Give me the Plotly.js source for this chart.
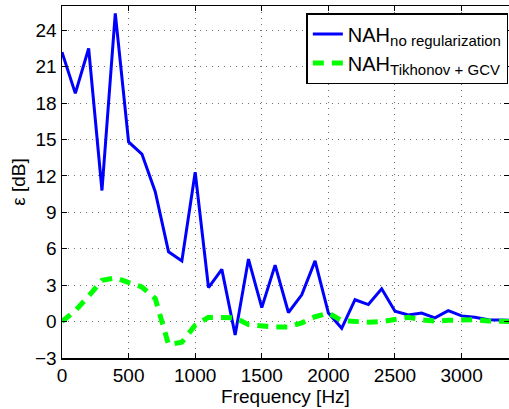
<!DOCTYPE html>
<html>
<head>
<meta charset="utf-8">
<script src="https://cdn.plot.ly/plotly-3.0.1.min.js"></script>
<style>html,body{margin:0;padding:0;background:#fff;}#chart{width:509px;height:409px;}</style>
</head>
<body>
<div id="chart"></div>
<script>
const frequency = [0,100,200,300,400,500,600,700,800,900,1000,1100,1200,1300,1400,1500,1600,1700,1800,1900,2000,2100,2200,2300,2400,2500,2600,2700,2800,2900,3000,3100,3200,3300,3400];
const noRegularization = [22.2,18.8,22.5,10.8,25.4,14.8,13.8,10.7,5.75,5.0,12.3,2.8,4.3,-1.1,5.15,1.15,4.65,0.75,2.2,5.0,0.7,-0.55,1.8,1.4,2.7,0.85,0.55,0.7,0.3,0.9,0.47,0.36,0.15,0.12,0.1];
const tikhonovGCV = [0,0.9,2.1,3.4,3.6,3.25,2.85,1.9,-1.9,-1.7,-0.3,0.35,0.35,0.3,-0.25,-0.4,-0.45,-0.45,-0.1,0.4,0.7,0.08,0.0,-0.05,0.0,0.2,0.35,0.15,0.05,0.1,0.15,0.15,0.05,0.0,0.0];
const xTicks = [0,500,1000,1500,2000,2500,3000];
const yTicks = [-3,0,3,6,9,12,15,18,21,24];
const yTickText = ['\u22123','0','3','6','9','12','15','18','21','24'];
const seriesBase = ['NAH', 'NAH'];
const seriesSub = ['no regularization', 'Tikhonov + GCV'];

const font = 'Liberation Sans, Arial, Helvetica, sans-serif';
const legendName = (i) => seriesBase[i] + '<sub><span style="font-size:15px">' + seriesSub[i] + '</span></sub>';
const traces = [
  {x: frequency, y: noRegularization, type: 'scatter', mode: 'lines', name: legendName(0),
   line: {color: '#0000ff', width: 3}},
  {x: frequency, y: tikhonovGCV, type: 'scatter', mode: 'lines', name: legendName(1),
   line: {color: '#00ff00', width: 5, dash: '11px,8px'}}
];
const axisCommon = {
  showline: true, linecolor: '#000', linewidth: 1.5, mirror: 'ticks',
  ticks: 'inside', ticklen: 5, tickcolor: '#000', tickwidth: 1,
  showgrid: true, gridcolor: '#707070', griddash: '1px,5px', gridwidth: 1,
  zeroline: false, tickfont: {family: font, size: 19, color: '#000'}
};
const layout = {
  width: 509, height: 409,
  margin: {l: 62, r: 0, t: 6, b: 51},
  paper_bgcolor: '#fff', plot_bgcolor: '#fff',
  font: {family: font, color: '#000'},
  xaxis: Object.assign({}, axisCommon, {
    range: [0, 3356], tickmode: 'array', tickvals: xTicks, ticktext: xTicks.map(String),
    title: {text: 'Frequency [Hz]', font: {family: font, size: 19, color: '#000'}, standoff: 2}
  }),
  yaxis: Object.assign({}, axisCommon, {
    range: [-3, 26], tickmode: 'array', tickvals: yTicks, ticktext: yTickText,
    title: {text: '\u03b5 [dB]', font: {family: font, size: 19, color: '#000'}, standoff: 4}
  }),
  showlegend: true,
  legend: {
    x: 0.9985, y: 0.98, xanchor: 'right', yanchor: 'top',
    bgcolor: '#fff', bordercolor: '#000', borderwidth: 1.5,
    font: {family: font, size: 20, color: '#000'},
    tracegroupgap: 0, itemwidth: 30
  }
};
Plotly.newPlot('chart', traces, layout, {staticPlot: true, displayModeBar: false});
</script>
</body>
</html>
